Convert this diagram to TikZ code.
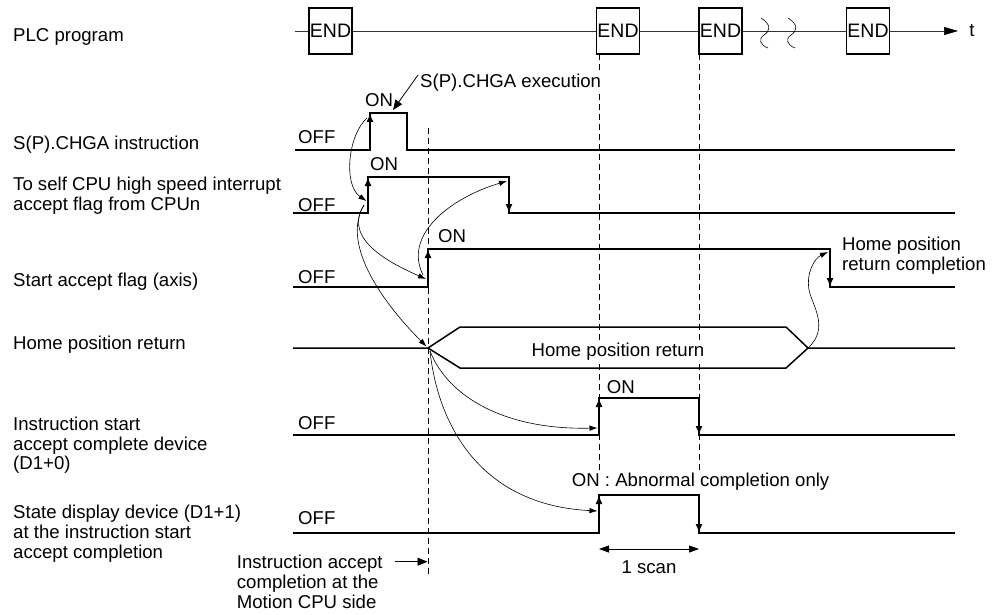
\documentclass[tikz,border=0pt]{standalone}
\usepackage{fontspec}
\setmainfont{Liberation Sans}
\usetikzlibrary{arrows.meta}
\begin{document}
\begin{tikzpicture}[x=1pt,y=-1pt,
  lbl/.style={font=\fontsize{18.6}{19.8}\selectfont, inner sep=0pt, align=left},
  sig/.style={line width=1.5pt, line join=miter},
  sigarr/.style={line width=1.5pt, -{Latex[length=9pt,width=7pt]}},
  cur/.style={line width=0.6pt, -{Latex[length=8pt,width=5.5pt]}},
  ptr/.style={line width=0.8pt, -{Triangle[length=10pt,width=8pt]}},
  vdash/.style={line width=0.8pt, dash pattern=on 6pt off 4pt},
  endbox/.style={draw, line width=1.1pt, fill=white, minimum width=43pt, minimum height=46pt, inner sep=0pt, font=\fontsize{19.5}{20}\selectfont},
  tline/.style={line width=0.7pt, black!80},
  wave/.style={line width=0.6pt},
]
\useasboundingbox (0,0) rectangle (995,615);

% ---------- time line ----------
\draw[tline, -{Triangle[length=14pt,width=8pt,black]}] (295,31) -- (958,31);
\draw[wave] (761,18) .. controls (772,25) and (770,31) .. (764,35) .. controls (758,39) and (760,45) .. (768,48);
\draw[wave] (788,18) .. controls (799,25) and (797,31) .. (791,35) .. controls (785,39) and (787,45) .. (795,48);
\node[endbox] (e1) at (330.5,31) {END};
\node[endbox] (e2) at (618,31) {END};
\node[endbox] (e3) at (720.5,31) {END};
\node[endbox] (e4) at (868,31) {END};
\node[lbl, anchor=base] (tlab) at (972,37) {t};

% ---------- dashed guides ----------
\draw[vdash] (428,128) -- (428,577);
\draw[vdash] (599,54) -- (599,495);
\draw[vdash] (699,54) -- (699,495);

% ---------- left labels ----------
\node[lbl, anchor=base west] (l0) at (13,41.5) {PLC program};
\node[lbl, anchor=base west] (l1) at (13,149) {S(P).CHGA instruction};
\node[lbl, anchor=north west] (l2) at (13,176.7) {To self CPU high speed interrupt\\accept flag from CPUn};
\node[lbl, anchor=base west] (l3) at (13,286.5) {Start accept flag (axis)};
\node[lbl, anchor=base west] (l4) at (13,349.8) {Home position return};
\node[lbl, anchor=north west] (l5) at (13,416.7) {Instruction start\\accept complete device\\(D1+0)};
\node[lbl, anchor=north west] (l6) at (13,505) {State display device (D1+1)\\at the instruction start\\accept completion};

% ---------- signals ----------
% S(P).CHGA instruction
\draw[sig] (295,150) -- (370,150) -- (370,113) -- (407,113) -- (407,150) -- (955,150);
\draw[sigarr] (370,150) -- (370,113);
\node[lbl, anchor=base west] (off1) at (298,143.5) {OFF};
\node[lbl, anchor=base west] (on1) at (365,106.7) {ON};
% self CPU flag
\draw[sig] (293,213) -- (368,213) -- (368,177) -- (509,177) -- (509,213) -- (955,213);
\draw[sigarr] (368,213) -- (368,177);
\draw[sigarr] (509,177) -- (509,213);
\node[lbl, anchor=base west] (off2) at (298,211) {OFF};
\node[lbl, anchor=base west] (on2) at (370,170) {ON};
% start accept flag
\draw[sig] (293,287) -- (428,287) -- (428,249) -- (830,249) -- (830,287) -- (955,287);
\draw[sigarr] (428,287) -- (428,249);
\draw[sigarr] (830,249) -- (830,287);
\node[lbl, anchor=base west] (off3) at (298,283.5) {OFF};
\node[lbl, anchor=base west] (on3) at (438,242.3) {ON};
\node[lbl, anchor=north west] (hpc) at (842,236.7) {Home position\\return completion};
% home position return
\draw[sig] (293,348) -- (428,348) -- (460,327) -- (786,327) -- (808,348) -- (955,348);
\draw[sig] (428,348) -- (460,368) -- (786,368) -- (808,348);
\node[lbl, anchor=base, fill=white, inner sep=0.5pt] (hpr) at (618,356.5) {Home position return};
% instruction start accept complete device
\draw[sig] (293,435) -- (599,435) -- (599,398) -- (699,398) -- (699,435) -- (955,435);
\draw[sigarr] (599,435) -- (599,398);
\draw[sigarr] (699,398) -- (699,435);
\node[lbl, anchor=base west] (off5) at (298,429.5) {OFF};
\node[lbl, anchor=base west] (on5) at (606.7,393.3) {ON};
% state display device
\draw[sig] (293,533) -- (599,533) -- (599,495) -- (699,495) -- (699,533) -- (955,533);
\draw[sigarr] (599,533) -- (599,495);
\draw[sigarr] (699,495) -- (699,533);
\node[lbl, anchor=base west] (off6) at (298,524) {OFF};
\node[lbl, anchor=base west, fill=white, inner sep=1pt] (on6) at (570.7,486.7) {ON : Abnormal completion only};

% ---------- annotations ----------
\node[lbl, anchor=base west, fill=white, inner sep=1pt] (exe) at (419,88) {S(P).CHGA execution};
\coordinate (exeFrom) at (418,75);
\coordinate (exeTo) at (393,110);
\draw[ptr] (exeFrom) -- (exeTo);

\node[lbl, anchor=north west] (iac) at (236.7,555) {Instruction accept\\completion at the\\Motion CPU side};
\coordinate (iacFrom) at (395,561.7);
\coordinate (iacTo) at (427.5,561.7);
\draw[ptr] (iacFrom) -- (iacTo);

\coordinate (scanL) at (599,549);
\coordinate (scanR) at (699,549);
\draw[line width=0.8pt, {Triangle[length=10pt,width=7pt]}-{Triangle[length=10pt,width=7pt]}] (scanL) -- (scanR);
\node[lbl, anchor=base] (scan) at (649,573) {1 scan};

% ---------- cause/effect curves ----------
\coordinate (spTop) at (367,118);
\coordinate (scRise) at (366.5,201);
\coordinate (scFrom) at (364,205);
\coordinate (saRise) at (426,279);
\coordinate (hpTip) at (426.5,346.5);
\coordinate (hpFrom) at (430,351);
\coordinate (scFallTop) at (507,181);
\coordinate (saFrom) at (423,275);
\coordinate (isRise) at (597.5,428);
\coordinate (sdRise) at (597.5,511);
\coordinate (hpEnd) at (808,348);
\coordinate (saFallTop) at (828,252);

\draw[cur] (spTop) .. controls (348,135) and (343,185) .. (scRise);
\draw[cur] (scFrom) .. controls (345,235) and (378,258) .. (saRise);
\draw[cur] (scFrom) .. controls (340,245) and (385,305) .. (hpTip);
\draw[cur] (saFrom) .. controls (403,235) and (450,198) .. (scFallTop);
\draw[cur] (hpFrom) .. controls (448,397) and (505,430) .. (isRise);
\draw[cur] (hpFrom) .. controls (438,425) and (480,505) .. (sdRise);
\draw[cur] (hpEnd) .. controls (830,328) and (812,305) .. (809,290) .. controls (806,272) and (815,258) .. (saFallTop);
\end{tikzpicture}
\end{document}
